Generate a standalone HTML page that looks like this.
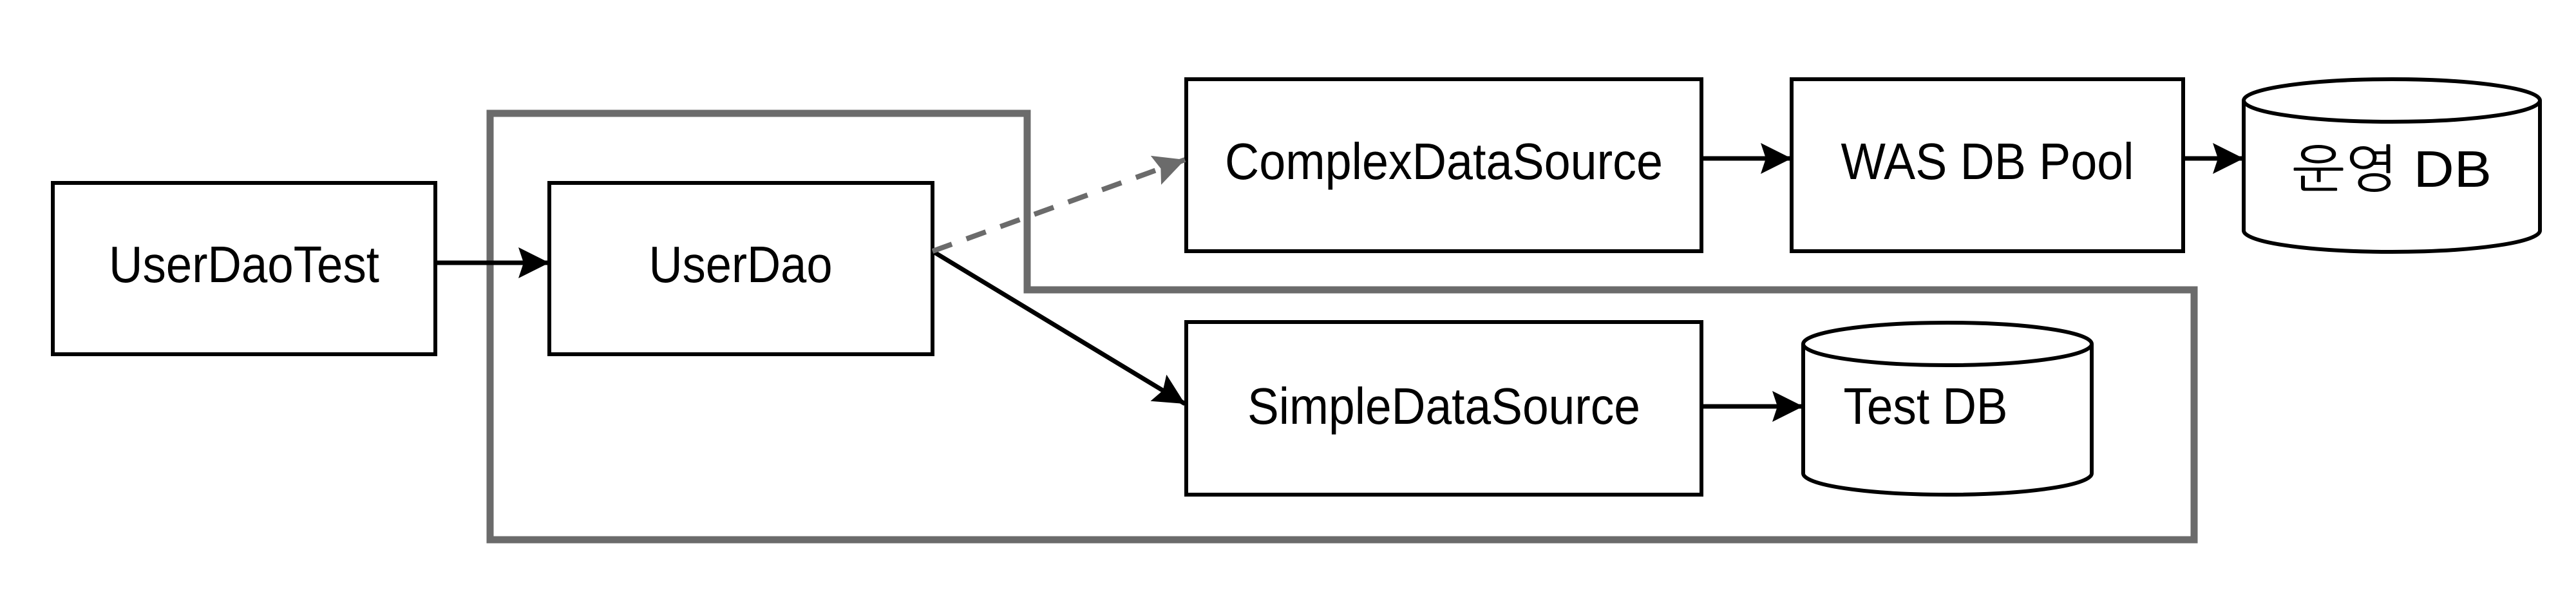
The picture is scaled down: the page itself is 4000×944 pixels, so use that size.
<!DOCTYPE html>
<html><head><meta charset="utf-8"><style>html,body{margin:0;padding:0;background:#fff}svg{display:block}</style></head>
<body>
<svg width="4000" height="944" viewBox="0 0 4000 944" xmlns="http://www.w3.org/2000/svg">
<defs>
<marker id="ab" markerUnits="userSpaceOnUse" markerWidth="60" markerHeight="60" refX="48" refY="24" orient="auto"><path d="M0,0 L48,24 L0,48 L8,24 Z" fill="#000"/></marker>
<marker id="ag" markerUnits="userSpaceOnUse" markerWidth="60" markerHeight="60" refX="48" refY="24" orient="auto"><path d="M0,0 L48,24 L0,48 L8,24 Z" fill="#6b6b6b"/></marker>
</defs>
<path d="M761,176 L1595,176 L1595,450 L3407,450 L3407,838 L761,838 Z" fill="none" stroke="#6b6b6b" stroke-width="11"/>
<g fill="#fff" stroke="#000" stroke-width="6">
<rect x="82" y="284" width="594" height="266"/>
<rect x="853" y="284" width="595" height="266"/>
<rect x="1842" y="123" width="800" height="267"/>
<rect x="2782" y="123" width="608" height="267"/>
<rect x="1842" y="500" width="800" height="268"/>
<path d="M3484,156 L3484,358 A230,33 0 0 0 3944,358 L3944,156"/>
<ellipse cx="3714" cy="156" rx="230" ry="33"/>
<path d="M2800,534 L2800,735 A224,33 0 0 0 3248,735 L3248,534"/>
<ellipse cx="3024" cy="534" rx="224" ry="33"/>
</g>
<g stroke="#000" stroke-width="7" fill="none">
<line x1="676" y1="408" x2="853" y2="408" marker-end="url(#ab)"/>
<line x1="1448" y1="390" x2="1840" y2="627" marker-end="url(#ab)"/>
<line x1="2642" y1="246" x2="2782" y2="246" marker-end="url(#ab)"/>
<line x1="3390" y1="246" x2="3484" y2="246" marker-end="url(#ab)"/>
<line x1="2642" y1="631" x2="2800" y2="631" marker-end="url(#ab)"/>
</g>
<line x1="1448" y1="390" x2="1840" y2="248" stroke="#6b6b6b" stroke-width="8" stroke-dasharray="32,24" marker-end="url(#ag)"/>
<g font-family="'Liberation Sans','NanumGothic','Noto Sans CJK KR',sans-serif" font-size="80" fill="#000" text-anchor="middle">
<text x="379" y="438" textLength="420" lengthAdjust="spacingAndGlyphs">UserDaoTest</text>
<text x="1150" y="438" textLength="285" lengthAdjust="spacingAndGlyphs">UserDao</text>
<text x="2242" y="278" textLength="680" lengthAdjust="spacingAndGlyphs">ComplexDataSource</text>
<text x="3086" y="278" textLength="455" lengthAdjust="spacingAndGlyphs">WAS DB Pool</text>
<text x="3714" y="290" textLength="310" lengthAdjust="spacingAndGlyphs">운영 DB</text>
<text x="2242" y="658" textLength="610" lengthAdjust="spacingAndGlyphs">SimpleDataSource</text>
<text x="2990" y="658" textLength="255" lengthAdjust="spacingAndGlyphs">Test DB</text>
</g>
</svg>
</body></html>
